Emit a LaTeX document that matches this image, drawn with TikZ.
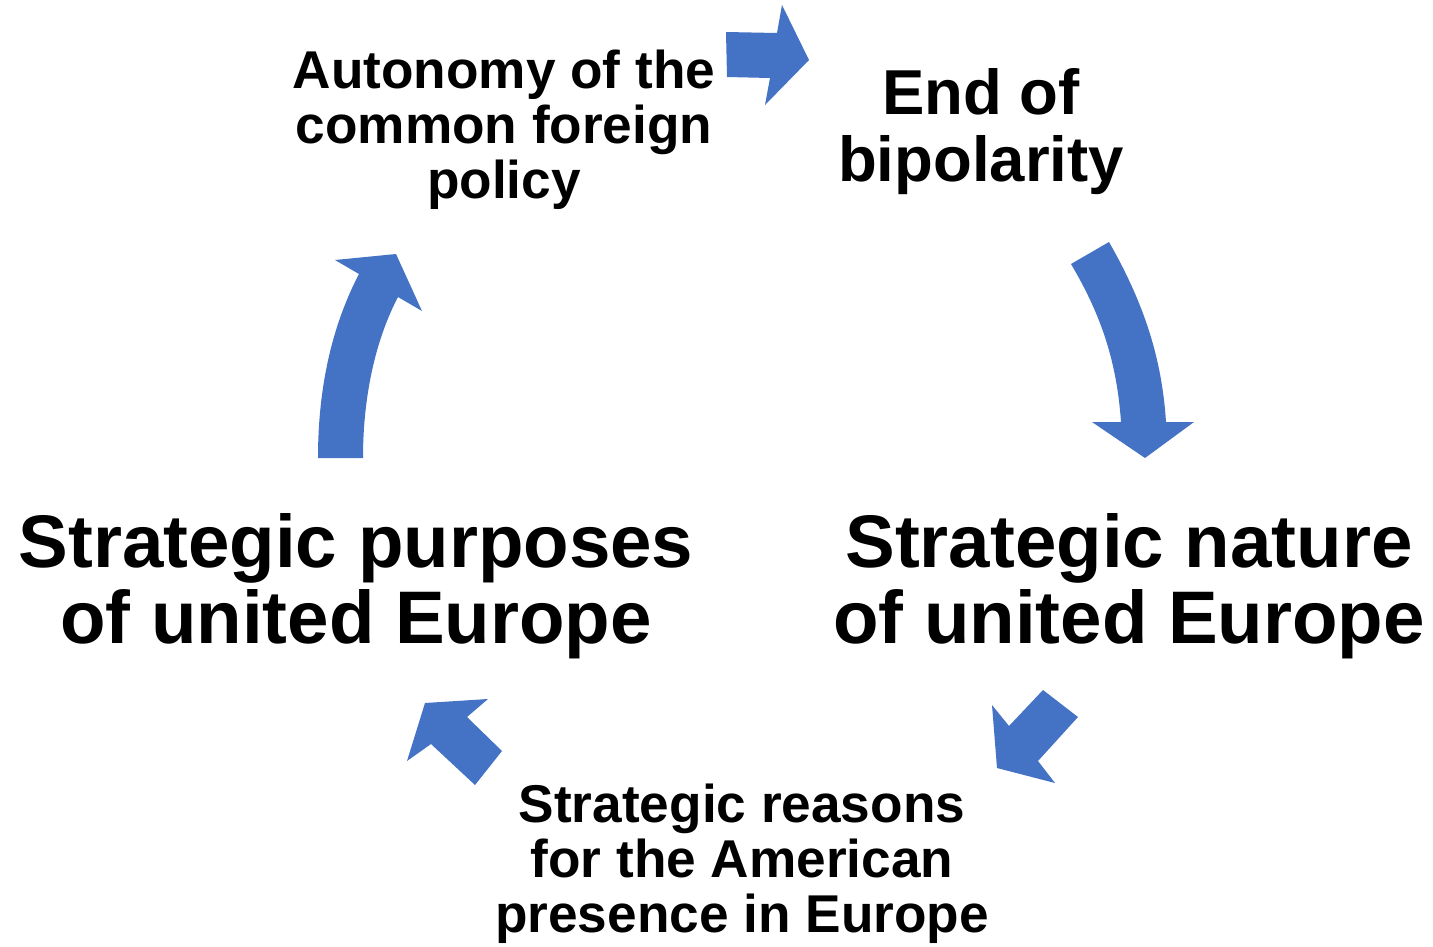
\documentclass[tikz,border=0pt]{standalone}
\usepackage{fontspec}
\setmainfont{Liberation Sans}
\definecolor{arrowblue}{HTML}{4472C4}
\newcommand\mylines[2]{\vtop{\baselineskip=#1\lineskiplimit=-200pt\lineskip=0pt\halign{\hfil##\hfil\cr#2\crcr}}}
\tikzset{
  blockarrow/.style={fill=arrowblue, draw=none},
  lbl/.style={anchor=base, inner sep=0pt, text=black},
  bigtxt/.style={lbl, font=\fontsize{74.5}{76}\bfseries\selectfont},
  midtxt/.style={lbl, font=\fontsize{63.5}{67}\bfseries\selectfont},
  smalltxt/.style={lbl, font=\fontsize{53.2}{55}\bfseries\selectfont}
}
\begin{document}
\begin{tikzpicture}[x=1pt,y=-1pt]
\useasboundingbox[fill=white] (0,0) rectangle (1433,946);

% labels
\node[midtxt] (bipol) at (981,114) {\mylines{67pt}{End of\cr bipolarity}};
\node[bigtxt] (nature) at (1129,567) {\mylines{76pt}{Strategic nature\cr of united Europe}};
\node[smalltxt] (reasons) at (742,822) {\mylines{55pt}{Strategic reasons\cr for the American\cr presence in Europe}};
\node[bigtxt] (purposes) at (356,567) {\mylines{76pt}{Strategic purposes\cr of united Europe}};
\node[smalltxt] (autonomy) at (504,88) {\mylines{55pt}{Autonomy of the\cr common foreign\cr policy}};

% arrow: autonomy -> bipolarity
\fill[blockarrow] (726,32) -- (777,33) -- (782,5) -- (809,60) -- (765,105) -- (770,78) -- (727,77) -- cycle;

% arrow: bipolarity -> nature (curved)
\fill[blockarrow] (1071,264) -- (1109,242)
  .. controls (1145,305) and (1162,360) .. (1166,422)
  -- (1194,422) -- (1145,458) -- (1092,422) -- (1121,422)
  .. controls (1117,365) and (1103,318) .. (1071,264) -- cycle;

% arrow: nature -> reasons
\fill[blockarrow] (1043,690) -- (1078,717) -- (1038,761) -- (1055,783) -- (997,768) -- (992,705) -- (1009,726) -- cycle;

% arrow: reasons -> purposes
\fill[blockarrow] (425,703) -- (488,699) -- (467,717) -- (502,751) -- (475,785) -- (431,744) -- (407,761) -- cycle;

% arrow: purposes -> autonomy (curved)
\fill[blockarrow] (318,458)
  .. controls (318,380) and (335,320) .. (359,274)
  -- (335,260) -- (396,254) -- (422,311) -- (398,297)
  .. controls (378,335) and (363,390) .. (363,458) -- cycle;
\end{tikzpicture}
\end{document}
